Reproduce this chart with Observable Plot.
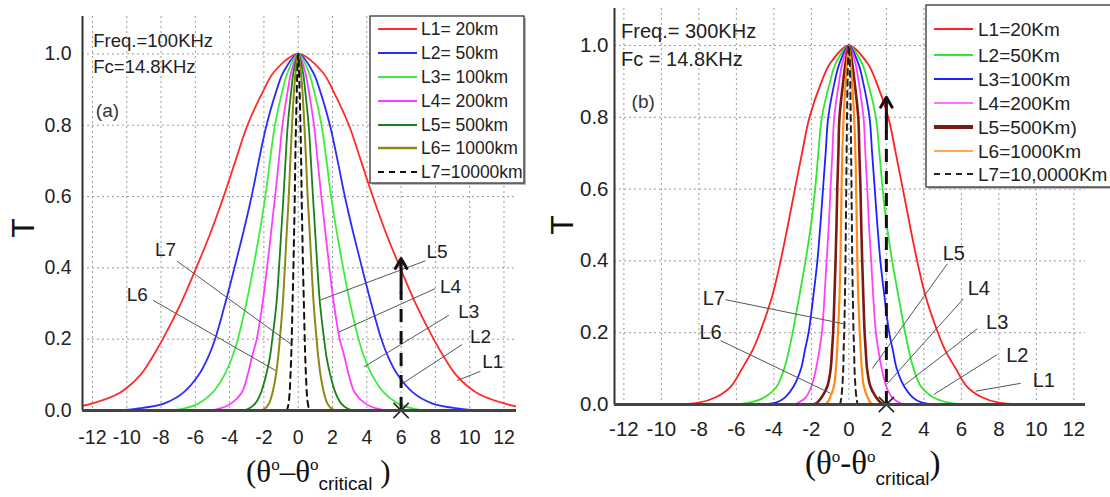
<!DOCTYPE html>
<html><head><meta charset="utf-8">
<script src="https://cdn.jsdelivr.net/npm/d3@7"></script>
<script src="https://cdn.jsdelivr.net/npm/@observablehq/plot@0.6"></script>
<style>
body{margin:0;background:#fff}
#wrap{display:flex;width:1110px;height:497px;overflow:hidden}
#wrap svg{overflow:visible;flex:none}
</style></head>
<body><div id="wrap"></div>
<script>
// Transmission levels T at which the half-widths were read
const levels = [1, 0.95, 0.9, 0.8, 0.7, 0.6, 0.5, 0.4, 0.3, 0.2, 0.15, 0.1, 0.05, 0.02, 0.005, 0];

// Panel (a) 100 kHz: half-width (deg) of each curve at each level
const a_L1 = [0, 1.4, 2.0, 2.96, 3.66, 4.35, 5.1, 5.95, 6.85, 7.9, 8.5, 9.2, 10.4, 12.0, 13.5, 15];
const a_L2 = [0, 0.85, 1.25, 1.85, 2.3, 2.72, 3.2, 3.72, 4.26, 4.85, 5.25, 5.8, 6.7, 7.8, 9.4, 10.5];
const a_L3 = [0, 0.6, 0.9, 1.36, 1.65, 1.92, 2.25, 2.62, 3.03, 3.52, 3.85, 4.3, 5.0, 5.8, 6.7, 7.5];
const a_L4 = [0, 0.4, 0.6, 0.92, 1.13, 1.35, 1.58, 1.82, 2.08, 2.42, 2.7, 2.95, 3.3, 3.9, 4.6, 5.2];
const a_L5 = [0, 0.27, 0.4, 0.61, 0.74, 0.86, 0.99, 1.12, 1.27, 1.51, 1.65, 1.87, 2.17, 2.5, 2.9, 3.3];
const a_L6 = [0, 0.15, 0.24, 0.36, 0.46, 0.55, 0.67, 0.78, 0.9, 1.07, 1.17, 1.3, 1.5, 1.7, 1.95, 2.2];
const a_L7 = [0, 0.05, 0.08, 0.13, 0.17, 0.2, 0.24, 0.28, 0.33, 0.38, 0.41, 0.45, 0.5, 0.56, 0.63, 0.68];
const a_names = ["L1= 20km", "L2= 50km", "L3= 100km", "L4= 200km", "L5= 500km", "L6= 1000km", "L7=10000km"];
const a_colors = ["#ff2a2a", "#2b2bff", "#3cee3c", "#ff3cff", "#178217", "#8c8a14", "#111111"];

// Panel (b) 300 kHz
const b_L1 = [0, 1.0, 1.45, 2.1, 2.5, 2.88, 3.25, 3.64, 4.1, 4.75, 5.15, 5.7, 6.3, 7.1, 8.0, 9.5];
const b_L2 = [0, 0.7, 1.0, 1.44, 1.63, 1.8, 2.02, 2.31, 2.65, 3.0, 3.2, 3.45, 3.85, 4.5, 5.3, 6.2];
const b_L3 = [0, 0.5, 0.75, 1.1, 1.24, 1.38, 1.52, 1.68, 1.9, 2.15, 2.35, 2.55, 2.95, 3.4, 3.9, 4.6];
const b_L4 = [0, 0.35, 0.52, 0.78, 0.88, 0.98, 1.07, 1.19, 1.3, 1.44, 1.58, 1.75, 2.0, 2.3, 2.7, 3.0];
const b_L5 = [0, 0.18, 0.3, 0.5, 0.56, 0.62, 0.66, 0.71, 0.77, 0.84, 0.9, 0.97, 1.15, 1.45, 1.7, 1.9];
const b_L6 = [0, 0.1, 0.17, 0.28, 0.35, 0.39, 0.42, 0.45, 0.5, 0.58, 0.63, 0.69, 0.8, 1.0, 1.15, 1.3];
const b_L7 = [0, 0.05, 0.07, 0.1, 0.12, 0.14, 0.16, 0.18, 0.21, 0.25, 0.28, 0.3, 0.35, 0.4, 0.45, 0.5];
const b_names = ["L1=20Km", "L2=50Km", "L3=100Km", "L4=200Km", "L5=500Km)", "L6=1000Km", "L7=10,0000Km"];
const b_colors = ["#ff2020", "#2ee82e", "#2020ff", "#ff40ff", "#7b1a12", "#ff8c1a", "#222222"];

// Axis ticks
const xTicks = [-12, -10, -8, -6, -4, -2, 0, 2, 4, 6, 8, 10, 12];
const yTicks = [0, 0.2, 0.4, 0.6, 0.8, 1.0];

// Curve tags (labels inside the plot) and pointer lines
const tags = ["L1", "L2", "L3", "L4", "L5", "L6", "L7"];
const a_tagX = [11.35, 10.63, 9.95, 8.88, 8.1, -9.39, -7.74];
const a_tagY = [0.136, 0.206, 0.276, 0.346, 0.445, 0.323, 0.449];
const a_ptrX1 = [10.63, 9.56, 8.78, 8.0, 7.42, -8.46, -7.07];
const a_ptrY1 = [0.11, 0.185, 0.267, 0.342, 0.42, 0.309, 0.419];
const a_ptrX2 = [9.27, 6.06, 3.83, 2.37, 1.3, -1.32, -0.45];
const a_ptrY2 = [0.084, 0.075, 0.122, 0.22, 0.31, 0.112, 0.187];
const b_tagX = [10.4, 8.98, 7.91, 6.93, 5.6, -7.38, -7.2];
const b_tagY = [0.067, 0.136, 0.229, 0.322, 0.42, 0.201, 0.294];
const b_ptrX1 = [9.16, 7.91, 6.85, 6.1, 5.25, -6.84, -6.58];
const b_ptrY1 = [0.059, 0.139, 0.211, 0.294, 0.392, 0.178, 0.292];
const b_ptrX2 = [6.76, 4.53, 2.93, 2.05, 1.25, -0.98, -0.3];
const b_ptrY2 = [0.037, 0.028, 0.053, 0.058, 0.1, 0.031, 0.225];

// Vertical arrows (x position, solid head segment start, tip)
const a_arrow = [6, 0.33, 0.426];
const b_arrow = [2, 0.76, 0.856];

function profile(half) {
  const pts = [];
  for (let j = levels.length - 1; j >= 0; j--) pts.push({x: -half[j], y: levels[j]});
  for (let j = 1; j < levels.length; j++) pts.push({x: half[j], y: levels[j]});
  return pts;
}

function panel(o) {
  const marks = [
    Plot.gridX(xTicks, {stroke: "#9a9a9a", strokeOpacity: 1, strokeDasharray: "2,3", strokeWidth: 1}),
    Plot.gridY(yTicks, {stroke: "#9a9a9a", strokeOpacity: 1, strokeDasharray: "2,3", strokeWidth: 1})
  ];
  o.halves.forEach((h, i) => {
    marks.push(Plot.line(profile(h), {
      x: "x", y: "y", stroke: o.colors[i], strokeWidth: o.widths[i],
      strokeDasharray: o.dashes[i], curve: "catmull-rom", clip: true
    }));
  });
  const ptr = tags.map((t, i) => ({x1: o.px1[i], y1: o.py1[i], x2: o.px2[i], y2: o.py2[i]}));
  marks.push(Plot.link(ptr, {x1: "x1", y1: "y1", x2: "x2", y2: "y2", stroke: "#555", strokeWidth: 1}));
  marks.push(Plot.text(tags, {x: (d, i) => o.tx[i], y: (d, i) => o.ty[i], text: d => d,
    fontSize: o.tagSize, fill: "#222", fontFamily: "Liberation Sans"}));
  // arrow
  marks.push(Plot.ruleX([o.arrow[0]], {y1: 0, y2: o.arrow[1], stroke: "#111", strokeWidth: 3, strokeDasharray: "13,9"}));
  marks.push(Plot.arrow([o.arrow], {x1: d => d[0], y1: d => d[1], x2: d => d[0], y2: d => d[2],
    stroke: "#111", strokeWidth: 3, headLength: 8}));
  marks.push(Plot.dot([o.arrow], {x: d => d[0], y: () => 0, symbol: "times", r: 7, stroke: "#222", strokeWidth: 1.5}));
  // annotations
  marks.push(Plot.text([o.freq, o.fc], {x: o.annX, y: (d, i) => o.annY[i], text: d => d,
    textAnchor: "start", lineAnchor: "bottom", fontSize: o.annSize, fill: "#222"}));
  marks.push(Plot.text([o.panelTag], {x: o.tagPX, y: o.tagPY, text: d => d,
    textAnchor: "start", lineAnchor: "bottom", fontSize: 19, fill: "#333"}));
  // axes
  marks.push(Plot.ruleX([o.xDomain[0]], {stroke: "#333", strokeWidth: 2}));
  marks.push(Plot.ruleY([0], {stroke: "#444", strokeWidth: 3}));
  marks.push(Plot.axisX(xTicks, {tickSize: 0, tickPadding: o.xPad, tickFormat: d => String(d),
    fontSize: o.tickFont, label: null, fill: "#222"}));
  marks.push(Plot.axisY(yTicks, {tickSize: 0, tickPadding: o.yPad, tickFormat: d => d.toFixed(1),
    fontSize: o.tickFont, label: null, fill: "#222"}));

  const svg = Plot.plot({
    width: 555, height: 497,
    marginLeft: o.m[0], marginRight: o.m[1], marginTop: o.m[2], marginBottom: o.m[3],
    x: {domain: o.xDomain},
    y: {domain: o.yDomain},
    style: {fontFamily: "Liberation Sans, Arial, sans-serif", background: "white", color: "#222"},
    marks
  });

  const s = d3.select(svg);
  // Legend
  const L = o.legend;
  const g = s.append("g").attr("text-anchor", "start");
  g.append("rect").attr("x", L.x + 2).attr("y", L.y + 2).attr("width", L.w).attr("height", L.h).attr("fill", "#bbb");
  g.append("rect").attr("x", L.x).attr("y", L.y).attr("width", L.w).attr("height", L.h)
    .attr("fill", "white").attr("stroke", "#333").attr("stroke-width", 1.3);
  o.names.forEach((n, i) => {
    const y = L.rows[i];
    g.append("line").attr("x1", L.lx1).attr("x2", L.lx2).attr("y1", y).attr("y2", y)
      .attr("stroke", o.colors[i]).attr("stroke-width", o.legendWidths[i])
      .attr("stroke-dasharray", o.dashes[i] || null);
    g.append("text").attr("x", L.tx).attr("y", y).attr("dy", "0.36em").attr("text-anchor", "start")
      .attr("font-size", L.font).attr("fill", "#222").attr("font-family", "Liberation Sans").text(n);
  });
  // y label
  s.append("text").attr("transform", `translate(${o.yLab[0]},${o.yLab[1]}) rotate(-90)`)
    .attr("text-anchor", "middle").attr("dy", "0.36em")
    .attr("font-size", 32).attr("font-family", "Liberation Sans").attr("fill", "#111").text("T");
  // x label
  const base = o.xLab[1];
  const t = s.append("text").attr("x", o.xLab[0]).attr("y", base).attr("text-anchor", "start")
    .attr("font-family", "Liberation Serif").attr("font-size", o.xLabSize).attr("fill", "#111");
  t.append("tspan").attr("y", base).text("(θ");
  t.append("tspan").attr("y", base - 12).attr("font-size", 17).text("o");
  t.append("tspan").attr("y", base).text(o.dash + "θ");
  t.append("tspan").attr("y", base - 12).attr("font-size", 17).text("o");
  t.append("tspan").attr("y", base + o.subDy).attr("font-size", 19).attr("font-family", "Liberation Sans").text("critical");
  t.append("tspan").attr("y", base).text(o.close);
  return svg;
}

const wrap = document.getElementById("wrap");

wrap.appendChild(panel({
  halves: [a_L1, a_L2, a_L3, a_L4, a_L5, a_L6, a_L7],
  colors: a_colors, names: a_names,
  widths: [1.8, 1.8, 1.8, 1.8, 1.8, 2, 2],
  legendWidths: [1.8, 1.8, 2, 2, 1.8, 2.5, 2],
  dashes: [null, null, null, null, null, null, "6,5"],
  px1: a_ptrX1, py1: a_ptrY1, px2: a_ptrX2, py2: a_ptrY2, tx: a_tagX, ty: a_tagY, tagSize: 19,
  arrow: a_arrow,
  freq: "Freq.=100KHz", fc: "Fc=14.8KHz", annX: -11.95, annY: [1.02, 0.947], annSize: 18.5,
  panelTag: "(a)", tagPX: -11.8, tagPY: 0.823,
  xDomain: [-12.58, 12.73], yDomain: [0, 1.105], m: [82, 39, 16, 87],
  xPad: 20, yPad: 11, tickFont: 19.5,
  legend: {x: 370, y: 16, w: 154, h: 167, rows: [29, 53, 77, 101, 125, 148, 172], lx1: 378, lx2: 417, tx: 421, font: 17.5},
  yLab: [22, 228], xLab: [246, 482], xLabSize: 31, dash: "–", close: " )", subDy: 8
}));

wrap.appendChild(panel({
  halves: [b_L1, b_L2, b_L3, b_L4, b_L5, b_L6, b_L7],
  colors: b_colors, names: b_names,
  widths: [1.8, 1.8, 1.8, 1.8, 2.6, 2.2, 2],
  legendWidths: [1.8, 1.8, 2, 1.5, 4, 1.5, 2],
  dashes: [null, null, null, null, null, null, "6,5"],
  px1: b_ptrX1, py1: b_ptrY1, px2: b_ptrX2, py2: b_ptrY2, tx: b_tagX, ty: b_tagY, tagSize: 20,
  arrow: b_arrow,
  freq: "Freq.= 300KHz", fc: "Fc = 14.8KHz", annX: -12.15, annY: [1.02, 0.944], annSize: 20,
  panelTag: "(b)", tagPX: -11.59, tagPY: 0.827,
  xDomain: [-12.5, 12.62], yDomain: [0, 1.103], m: [59, 25, 8, 93],
  xPad: 17, yPad: 6, tickFont: 20.5,
  legend: {x: 371, y: 5, w: 200, h: 182, rows: [29, 55, 79, 103, 127, 151, 174], lx1: 379, lx2: 418, tx: 423, font: 19},
  yLab: [6, 225], xLab: [250, 474], xLabSize: 33, dash: "-", close: ")", subDy: 11
}));
</script>
</body></html>
